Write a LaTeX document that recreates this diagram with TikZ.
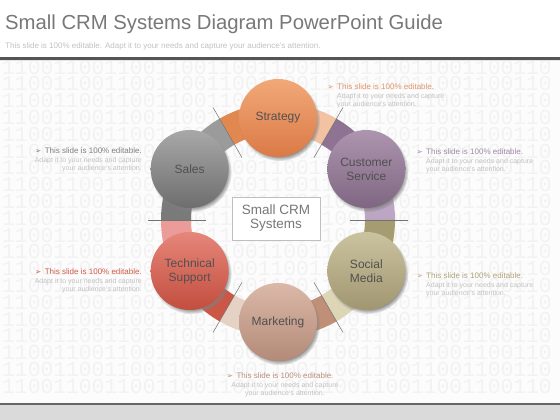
\documentclass[tikz,border=0pt]{standalone}
\usepackage{fontspec}
\setmainfont{Liberation Sans}
\newfontfamily\dejavu{DejaVu Sans}
\newfontfamily\binmono{Liberation Mono}
\usetikzlibrary{shadows,calc}
\definecolor{titlegray}{HTML}{787878}
\definecolor{subgray}{HTML}{C2C2C2}
\definecolor{bgpat}{HTML}{FCFCFC}
\definecolor{digit}{HTML}{F2F2F2}
\definecolor{topbar}{HTML}{555555}
\definecolor{botbar}{HTML}{DADADA}
\definecolor{labeltext}{HTML}{505050}
% circle shades
\definecolor{stratT}{HTML}{F2A878}\definecolor{stratB}{HTML}{DA7A46}
\definecolor{custT}{HTML}{AD95AF}\definecolor{custB}{HTML}{7F6783}
\definecolor{socT}{HTML}{CBC3A0}\definecolor{socB}{HTML}{A09670}
\definecolor{markT}{HTML}{DBB8A8}\definecolor{markB}{HTML}{B48A78}
\definecolor{techT}{HTML}{E6867A}\definecolor{techB}{HTML}{C24E3E}
\definecolor{salesT}{HTML}{A8A8A8}\definecolor{salesB}{HTML}{6E6E6E}
% band colours
\definecolor{stratD}{HTML}{E0884F}\definecolor{stratL}{HTML}{F3C2A2}
\definecolor{custD}{HTML}{8E7492}\definecolor{custL}{HTML}{BCA6C4}
\definecolor{socD}{HTML}{A69C72}\definecolor{socL}{HTML}{DCD5B6}
\definecolor{markD}{HTML}{BF8F78}\definecolor{markL}{HTML}{E6D2C4}
\definecolor{techD}{HTML}{CB5846}\definecolor{techL}{HTML}{EB9C98}
\definecolor{salesD}{HTML}{7A7A7A}\definecolor{salesL}{HTML}{9B9B9B}
% annotation colours
\definecolor{annA}{HTML}{E0946A}
\definecolor{annB}{HTML}{A088A8}
\definecolor{annC}{HTML}{B0A47C}
\definecolor{annD}{HTML}{BC8E7C}
\definecolor{annE}{HTML}{808080}
\definecolor{annF}{HTML}{D05A48}

\tikzset{
  binrow/.style={inner sep=0pt, text=digit, font=\binmono\fontsize{21.3}{22}\selectfont},
  bub/.style={circle, minimum size=78pt, inner sep=0pt, align=center,
    text=labeltext, font=\fontsize{12}{14}\selectfont,
    circular drop shadow={shadow xshift=1.5pt, shadow yshift=-2.5pt, shadow scale=1.04}},
  hubbox/.style={draw=black!25, fill=white, minimum width=88pt, minimum height=43pt,
    inner sep=0pt, align=center, text=titlegray, font=\fontsize{13.5}{14}\selectfont,
    drop shadow={shadow xshift=1pt, shadow yshift=-1.5pt, opacity=0.2}},
  divline/.style={draw=black!55, line width=0.5pt},
  annmain/.style={inner sep=0pt, font=\fontsize{8}{9}\selectfont},
  annsub/.style={inner sep=0pt, text=subgray, font=\fontsize{7}{8}\selectfont},
  annarrow/.style={inner sep=0pt, font=\dejavu\fontsize{7.5}{8}\selectfont}
}

\newcommand\ringseg[3]{%
  \fill[#3] ($(C)+(#1:87pt)$) arc[start angle=#1, end angle=#2, radius=87pt]
    -- ($(C)+(#2:117pt)$) arc[start angle=#2, end angle=#1, radius=117pt] -- cycle;}
\newcommand\annot[5]{%
  \node[annmain, anchor=#2, text=#5] (#1a) at (#3,#4) {This slide is 100\% editable.};
  \node[annsub, anchor=#2] (#1b) at (#3,#4-8.4) {Adapt it to your needs and capture};
  \node[annsub, anchor=#2] (#1c) at (#3,#4-16.9) {your audience's attention.};
  \node[annarrow, anchor=base east, text=#5] (#1d) at ([xshift=-3pt]#1a.base west) {➢};}

\begin{document}
\begin{tikzpicture}[x=1pt,y=1pt]
\useasboundingbox (0,0) rectangle (560,420);
\fill[white] (0,0) rectangle (560,420);
% background with binary pattern
\fill[bgpat] (0,17) rectangle (560,360);
\foreach \i in {0,...,19} {
  \node[binrow, anchor=west] (bin\i) at (2,353-16.8*\i) {1100110011001100110011001100110011001100110};
}
% bars
\fill[topbar] (0,360) rectangle (560,362.8);
\fill[black!10] (0,359) rectangle (560,360);
\fill[botbar] (0,0) rectangle (560,15);
\fill[black!60] (0,15) rectangle (560,17);
% title
\node[anchor=base west, inner sep=0pt, text=titlegray, font=\fontsize{20.3}{22}\selectfont] (title) at (5,390) {Small CRM Systems Diagram PowerPoint Guide};
\node[anchor=base west, inner sep=0pt, text=subgray, font=\fontsize{8}{9}\selectfont] (subtitle) at (5,371.5) {This slide is 100\% editable. Adapt it to your needs and capture your audience's attention.};

% ring
\coordinate (C) at (278,200);
\ringseg{120}{90}{stratD}
\ringseg{90}{60}{stratL}
\ringseg{60}{30}{custD}
\ringseg{30}{0}{custL}
\ringseg{0}{-30}{socD}
\ringseg{-30}{-60}{socL}
\ringseg{-60}{-90}{markD}
\ringseg{-90}{-120}{markL}
\ringseg{-120}{-150}{techD}
\ringseg{-150}{-180}{techL}
\ringseg{180}{150}{salesD}
\ringseg{150}{120}{salesL}
\foreach \a in {120,60,0,-60,-120,180} {
  \draw[divline] ($(C)+(\a:72pt)$) -- ($(C)+(\a:130pt)$);
}

% bubbles
\node[bub, top color=stratT, bottom color=stratB] (strategy) at ($(C)+(90:102pt)$) {Strategy};
\node[bub, top color=custT, bottom color=custB] (customer) at ($(C)+(30:102pt)$) {Customer\\Service};
\node[bub, top color=socT, bottom color=socB] (social) at ($(C)+(-30:102pt)$) {Social\\Media};
\node[bub, top color=markT, bottom color=markB] (marketing) at ($(C)+(-90:102pt)$) {Marketing};
\node[bub, top color=techT, bottom color=techB] (technical) at ($(C)+(-150:102pt)$) {Technical\\Support};
\node[bub, top color=salesT, bottom color=salesB] (sales) at ($(C)+(150:102pt)$) {Sales};

% hub
\node[hubbox] (hub) at (276,201.5) {Small CRM\\Systems};

% annotations
\annot{nA}{base west}{337}{330.3}{annA}
\annot{nB}{base west}{426}{265}{annB}
\annot{nC}{base west}{426}{141}{annC}
\annot{nD}{base}{285}{41}{annD}
\annot{nE}{base east}{142}{266}{annE}
\annot{nF}{base east}{142}{145}{annF}
\end{tikzpicture}
\end{document}
